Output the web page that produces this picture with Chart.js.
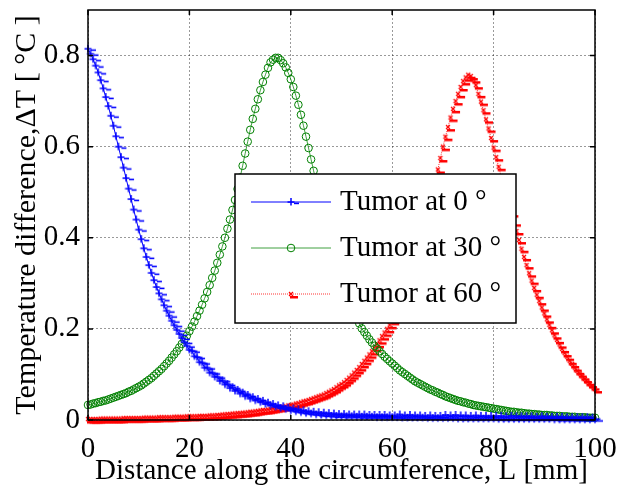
<!DOCTYPE html>
<html><head><meta charset="utf-8">
<script src="https://cdn.jsdelivr.net/npm/chart.js@4.4.1/dist/chart.umd.min.js"></script>
<style>html,body{margin:0;padding:0;background:#fff;}canvas{display:block;}</style>
</head><body>
<canvas id="c" width="619" height="489"></canvas>
<script>
const distance = [
0,0.5,1,1.5,2,2.5,3,3.5,4,4.5,5,5.5,6,6.5,7,7.5,8,8.5,9,9.5,
10,10.5,11,11.5,12,12.5,13,13.5,14,14.5,15,15.5,16,16.5,17,17.5,18,18.5,19,19.5,
20,20.5,21,21.5,22,22.5,23,23.5,24,24.5,25,25.5,26,26.5,27,27.5,28,28.5,29,29.5,
30,30.5,31,31.5,32,32.5,33,33.5,34,34.5,35,35.5,36,36.5,37,37.5,38,38.5,39,39.5,
40,40.5,41,41.5,42,42.5,43,43.5,44,44.5,45,45.5,46,46.5,47,47.5,48,48.5,49,49.5,
50,50.5,51,51.5,52,52.5,53,53.5,54,54.5,55,55.5,56,56.5,57,57.5,58,58.5,59,59.5,
60,60.5,61,61.5,62,62.5,63,63.5,64,64.5,65,65.5,66,66.5,67,67.5,68,68.5,69,69.5,
70,70.5,71,71.5,72,72.5,73,73.5,74,74.5,75,75.5,76,76.5,77,77.5,78,78.5,79,79.5,
80,80.5,81,81.5,82,82.5,83,83.5,84,84.5,85,85.5,86,86.5,87,87.5,88,88.5,89,89.5,
90,90.5,91,91.5,92,92.5,93,93.5,94,94.5,95,95.5,96,96.5,97,97.5,98,98.5,99,99.5,
100];
const tumor0 = [
0.815,0.804,0.792,0.778,0.763,0.746,0.728,0.709,0.689,0.668,
0.646,0.623,0.600,0.577,0.554,0.531,0.508,0.485,0.462,0.440,
0.418,0.397,0.377,0.358,0.340,0.323,0.307,0.292,0.278,0.265,
0.252,0.240,0.229,0.218,0.208,0.198,0.189,0.180,0.171,0.163,
0.154,0.152,0.140,0.138,0.127,0.126,0.115,0.115,0.104,0.104,
0.095,0.095,0.086,0.087,0.078,0.079,0.070,0.072,0.064,0.066,
0.058,0.060,0.052,0.055,0.047,0.050,0.043,0.046,0.039,0.042,
0.035,0.038,0.032,0.035,0.029,0.032,0.026,0.030,0.024,0.027,
0.021,0.025,0.019,0.023,0.017,0.021,0.015,0.019,0.014,0.018,
0.012,0.017,0.011,0.016,0.010,0.015,0.009,0.014,0.009,0.013,
0.008,0.013,0.008,0.012,0.008,0.012,0.007,0.012,0.007,0.012,
0.007,0.011,0.007,0.011,0.006,0.011,0.006,0.011,0.006,0.010,
0.006,0.010,0.006,0.012,0.005,0.010,0.005,0.011,0.005,0.010,
0.005,0.010,0.005,0.009,0.004,0.010,0.004,0.009,0.004,0.009,
0.004,0.011,0.004,0.010,0.004,0.011,0.003,0.010,0.003,0.010,
0.003,0.009,0.003,0.010,0.003,0.009,0.003,0.009,0.003,0.009,
0.003,0.009,0.002,0.009,0.002,0.008,0.002,0.009,0.002,0.008,
0.002,0.008,0.002,0.008,0.002,0.008,0.002,0.007,0.002,0.008,
0.002,0.007,0.002,0.007,0.001,0.007,0.001,0.007,0.001,0.006,
0.001,0.006,0.001,0.006,0.001,0.006,0.001,0.006,0.001,0.005,
0.001];
const tumor30 = [
0.033,0.034,0.036,0.037,0.039,0.040,0.042,0.043,0.045,0.047,
0.049,0.051,0.053,0.055,0.057,0.059,0.062,0.064,0.067,0.070,
0.073,0.076,0.080,0.084,0.088,0.092,0.097,0.102,0.107,0.112,
0.118,0.124,0.130,0.137,0.144,0.151,0.159,0.167,0.176,0.185,
0.195,0.205,0.216,0.228,0.240,0.253,0.267,0.281,0.296,0.312,
0.328,0.345,0.363,0.381,0.400,0.420,0.440,0.461,0.483,0.507,
0.532,0.558,0.585,0.611,0.637,0.661,0.683,0.704,0.724,0.742,
0.758,0.773,0.785,0.791,0.795,0.795,0.790,0.783,0.774,0.762,
0.748,0.731,0.712,0.692,0.670,0.646,0.622,0.597,0.572,0.547,
0.522,0.498,0.474,0.451,0.428,0.407,0.386,0.366,0.347,0.329,
0.311,0.295,0.279,0.264,0.250,0.237,0.224,0.212,0.201,0.193,
0.185,0.177,0.170,0.163,0.157,0.151,0.145,0.139,0.134,0.129,
0.124,0.119,0.114,0.109,0.105,0.101,0.097,0.093,0.089,0.085,
0.082,0.079,0.076,0.073,0.070,0.067,0.065,0.062,0.060,0.057,
0.055,0.052,0.050,0.048,0.046,0.044,0.042,0.041,0.039,0.038,
0.036,0.035,0.033,0.032,0.031,0.030,0.029,0.028,0.027,0.026,
0.025,0.024,0.023,0.022,0.021,0.020,0.019,0.018,0.018,0.017,
0.016,0.016,0.015,0.014,0.014,0.013,0.013,0.012,0.012,0.011,
0.011,0.011,0.010,0.010,0.009,0.009,0.009,0.008,0.008,0.008,
0.007,0.007,0.007,0.006,0.006,0.006,0.006,0.005,0.005,0.005,
0.005];
const tumor60 = [
0.002,0.002,0.002,0.002,0.002,0.003,0.003,0.003,0.003,0.003,
0.003,0.003,0.003,0.003,0.004,0.004,0.004,0.004,0.004,0.004,
0.004,0.004,0.005,0.005,0.005,0.005,0.005,0.005,0.006,0.006,
0.006,0.006,0.006,0.006,0.007,0.007,0.007,0.007,0.007,0.008,
0.008,0.008,0.008,0.008,0.009,0.009,0.009,0.009,0.010,0.010,
0.010,0.011,0.011,0.012,0.012,0.013,0.013,0.014,0.014,0.015,
0.015,0.016,0.016,0.017,0.018,0.018,0.019,0.020,0.021,0.022,
0.022,0.023,0.024,0.025,0.026,0.027,0.028,0.029,0.030,0.032,
0.033,0.034,0.036,0.037,0.039,0.041,0.042,0.044,0.046,0.048,
0.050,0.052,0.054,0.056,0.059,0.062,0.065,0.068,0.072,0.076,
0.079,0.083,0.088,0.093,0.098,0.104,0.110,0.116,0.123,0.130,
0.137,0.144,0.151,0.159,0.167,0.175,0.184,0.192,0.200,0.209,
0.218,0.229,0.240,0.252,0.265,0.279,0.294,0.310,0.327,0.345,
0.364,0.384,0.405,0.427,0.450,0.474,0.498,0.524,0.550,0.575,
0.600,0.622,0.643,0.664,0.683,0.700,0.716,0.731,0.744,0.752,
0.758,0.755,0.748,0.735,0.716,0.699,0.680,0.660,0.640,0.619,
0.598,0.577,0.556,0.535,0.514,0.494,0.474,0.454,0.434,0.415,
0.395,0.376,0.358,0.340,0.322,0.306,0.290,0.275,0.261,0.247,
0.234,0.221,0.209,0.197,0.186,0.176,0.166,0.156,0.147,0.139,
0.130,0.123,0.115,0.108,0.102,0.096,0.090,0.084,0.079,0.074,
0.068];
const seriesLabels = ['Tumor at 0 °', 'Tumor at 30 °', 'Tumor at 60 °'];
const xTickLabels = ['0', '20', '40', '60', '80', '100'];
const yTickLabels = ['0', '0.2', '0.4', '0.6', '0.8'];
const xTitle = 'Distance along the circumference, L [mm]';
const yTitle = 'Temperature difference,\u0394T [ \u00B0C ]';

const FONT = '"Liberation Serif", "Times New Roman", serif';
const BLUE = '#0000ff', GREEN = '#008000', RED = '#ff0000';

function plusMarker(color) {
  const c = document.createElement('canvas');
  c.width = 20; c.height = 14;
  const g = c.getContext('2d');
  g.fillStyle = color;
  g.fillRect(6.5, 6.3, 7, 1.5);
  g.fillRect(9.25, 3, 1.5, 7.5);
  g.fillRect(13, 7.6, 5, 1.6);
  return c;
}
function xMarker(color) {
  const c = document.createElement('canvas');
  c.width = 20; c.height = 14;
  const g = c.getContext('2d');
  g.strokeStyle = color; g.lineWidth = 1.2;
  g.beginPath();
  g.moveTo(8, 5); g.lineTo(12, 9);
  g.moveTo(12, 5); g.lineTo(8, 9);
  g.stroke();
  g.fillStyle = color;
  g.fillRect(9, 9, 8, 2.5);
  return c;
}
const blueMk = plusMarker(BLUE);
const redMk = xMarker(RED);

function pts(arr) { return arr.map((v, i) => ({x: distance[i], y: v})); }

const legendLayout = {dx: 147, dy: 164, w: 281, h: 149, lineX0: 16, lineX1: 96, textX: 105, rows: [28, 74, 120]};

const framePlugin = {
  id: 'frame',
  afterDatasetsDraw(chart) {
    const {ctx, chartArea: a, scales: {x, y}} = chart;
    ctx.save();
    ctx.strokeStyle = '#000'; ctx.lineWidth = 1.5;
    ctx.beginPath();
    x.ticks.forEach(t => {
      const px = x.getPixelForValue(t.value);
      ctx.moveTo(px, a.bottom); ctx.lineTo(px, a.bottom - 5);
      ctx.moveTo(px, a.top); ctx.lineTo(px, a.top + 5);
    });
    y.ticks.forEach(t => {
      const py = y.getPixelForValue(t.value);
      ctx.moveTo(a.left, py); ctx.lineTo(a.left + 5, py);
      ctx.moveTo(a.right, py); ctx.lineTo(a.right - 5, py);
    });
    ctx.stroke();
    const L = legendLayout;
    const bx = a.left + L.dx, by = a.top + L.dy;
    ctx.fillStyle = '#fff';
    ctx.fillRect(bx, by, L.w, L.h);
    ctx.lineWidth = 1.5; ctx.strokeStyle = '#000';
    ctx.strokeRect(bx, by, L.w, L.h);
    chart.data.datasets.forEach((ds, i) => {
      const ry = by + L.rows[i];
      ctx.save();
      ctx.strokeStyle = ds.borderColor;
      ctx.lineWidth = 1;
      ctx.setLineDash(ds.borderDash || []);
      ctx.beginPath();
      ctx.moveTo(bx + L.lineX0, ry); ctx.lineTo(bx + L.lineX1, ry);
      ctx.stroke();
      ctx.restore();
      const mx = bx + (L.lineX0 + L.lineX1) / 2;
      if (ds.pointStyle === 'circle') {
        ctx.save();
        ctx.strokeStyle = ds.pointBorderColor; ctx.lineWidth = 1;
        ctx.beginPath(); ctx.arc(mx, ry, ds.pointRadius, 0, Math.PI * 2); ctx.stroke();
        ctx.restore();
      } else {
        ctx.drawImage(ds.pointStyle, mx - ds.pointStyle.width / 2, ry - ds.pointStyle.height / 2);
      }
      ctx.fillStyle = '#000';
      ctx.font = '29px ' + FONT;
      ctx.textBaseline = 'middle';
      ctx.textAlign = 'left';
      ctx.fillText(ds.label, bx + L.textX, ry);
    });
    ctx.lineWidth = 1.5; ctx.strokeStyle = '#000';
    ctx.strokeRect(a.left, a.top, a.right - a.left, a.bottom - a.top);
    ctx.restore();
  }
};

new Chart(document.getElementById('c'), {
  type: 'line',
  data: {
    datasets: [
      {label: seriesLabels[0], data: pts(tumor0), borderColor: BLUE, borderWidth: 1,
       pointStyle: blueMk, pointRadius: 5, pointBorderColor: BLUE, tension: 0},
      {label: seriesLabels[1], data: pts(tumor30), borderColor: 'rgba(0,128,0,0.75)', borderWidth: 1,
       pointStyle: 'circle', pointRadius: 3.8, pointBorderWidth: 1, pointBorderColor: GREEN,
       pointBackgroundColor: 'rgba(0,0,0,0)', tension: 0},
      {label: seriesLabels[2], data: pts(tumor60), borderColor: 'rgba(255,0,0,0.8)', borderWidth: 1, borderDash: [1, 1],
       pointStyle: redMk, pointRadius: 5, pointBorderColor: RED, tension: 0}
    ]
  },
  options: {
    responsive: false,
    animation: false,
    clip: false,
    layout: {padding: {top: 10, right: 24, left: 0, bottom: 0}},
    plugins: {legend: {display: false}, tooltip: {enabled: false}},
    scales: {
      x: {
        type: 'linear', min: 0, max: 100,
        afterFit: s => { s.height = 69; s.paddingLeft = 0; s.paddingRight = 0; },
        border: {display: false, dash: [2, 2]},
        grid: {drawTicks: false, color: 'rgba(0,0,0,0.4)', lineWidth: 1},
        ticks: {stepSize: 20, padding: 12, color: '#000', font: {family: FONT, size: 29},
                maxRotation: 0, callback: (v) => xTickLabels[Math.round(v / 20)]},
        title: {display: true, text: xTitle, color: '#000', font: {family: FONT, size: 29}, padding: {top: 0, bottom: 0}}
      },
      y: {
        type: 'linear', min: 0, max: 0.9,
        afterFit: s => { s.width = 88; s.paddingTop = 0; s.paddingBottom = 0; },
        border: {display: false, dash: [2, 2]},
        grid: {drawTicks: false, color: 'rgba(0,0,0,0.4)', lineWidth: 1},
        ticks: {stepSize: 0.2, includeBounds: false, padding: 8, color: '#000', font: {family: FONT, size: 29},
                callback: (v) => yTickLabels[Math.round(v / 0.2)]},
        title: {display: true, text: yTitle, color: '#000', font: {family: FONT, size: 30}, padding: {top: 9, bottom: 0}}
      }
    }
  },
  plugins: [framePlugin]
});
</script>
</body></html>
